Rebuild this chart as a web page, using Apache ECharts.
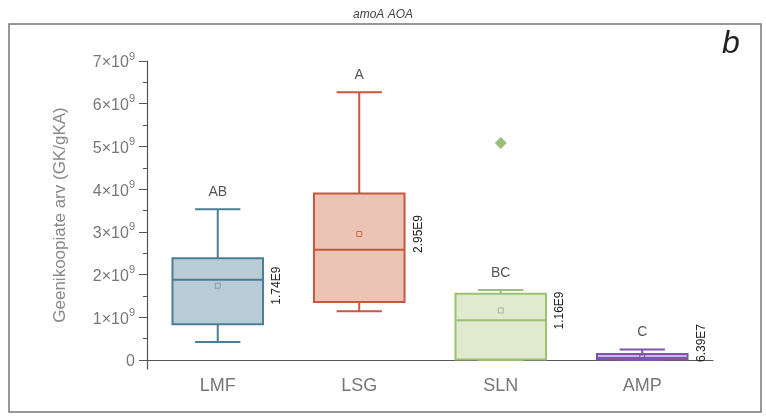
<!DOCTYPE html>
<html>
<head>
<meta charset="utf-8">
<script src="https://cdn.jsdelivr.net/npm/echarts@6/dist/echarts.min.js"></script>
<style>
html, body { margin: 0; padding: 0; background: #fff; }
#box { width: 766px; height: 416px; }
</style>
</head>
<body>
<div id="box"></div>
<script>
// 数据
var categories = ['LMF', 'LSG', 'SLN', 'AMP'];
var whiskerLow = [0.42e9, 1.14e9, 0.0, 0.0];
var q1 = [0.84e9, 1.36e9, 0.01e9, 0.01e9];
var median = [1.88e9, 2.58e9, 0.93e9, 0.05e9];
var q3 = [2.38e9, 3.90e9, 1.55e9, 0.14e9];
var whiskerHigh = [3.53e9, 6.27e9, 1.64e9, 0.245e9];
var means = [1.74e9, 2.95e9, 1.16e9, 6.39e7];
var meanLabels = ['1.74E9', '2.95E9', '1.16E9', '6.39E7'];
var groupLetters = ['AB', 'A', 'BC', 'C'];
var outliers = [[2, 5.08e9]];
var yTicks = [0, 1e9, 2e9, 3e9, 4e9, 5e9, 6e9, 7e9];
var yMinorTicks = [0.5e9, 1.5e9, 2.5e9, 3.5e9, 4.5e9, 5.5e9, 6.5e9];

// 颜色
var boxBorder = ['#4d7d93', '#c9573f', '#9cc074', '#7d55aa'];
var boxFill = ['#b8ccd7', '#ebc4b5', '#dfeacf', '#cbb6e0'];
var meanColor = ['#8a9aa3', '#d0643f', '#a8b49a', '#7d55aa'];

var FONT = '"Liberation Sans", Arial, sans-serif';

var boxData = categories.map(function(c, i) {
	return [i, whiskerLow[i], q1[i], median[i], q3[i], whiskerHigh[i], means[i]];
});

function renderBox(params, api) {
	var i = params.dataIndex;
	var cx = api.coord([i, 0])[0];
	var band = api.size([1, 0])[0];
	var hw = band * 0.32;
	var cw = hw * 0.5;
	var yLo = api.coord([i, api.value(1)])[1];
	var yQ1 = api.coord([i, api.value(2)])[1];
	var yMed = api.coord([i, api.value(3)])[1];
	var yQ3 = api.coord([i, api.value(4)])[1];
	var yHi = api.coord([i, api.value(5)])[1];
	var yMean = api.coord([i, api.value(6)])[1];
	var yZero = api.coord([i, 0])[1];
	var stroke = boxBorder[i];
	var ls = { stroke: stroke, lineWidth: 2 };
	// 数值标签中心，不低于零线
	var labY = Math.min(yMean, yZero - 17);
	return {
		type : 'group',
		children : [
			{ type: 'line', shape: { x1: cx, y1: yQ3, x2: cx, y2: yHi }, style: ls },
			{ type: 'line', shape: { x1: cx, y1: yQ1, x2: cx, y2: yLo }, style: ls },
			{ type: 'line', shape: { x1: cx - cw, y1: yHi, x2: cx + cw, y2: yHi }, style: ls },
			{ type: 'line', shape: { x1: cx - cw, y1: yLo, x2: cx + cw, y2: yLo }, style: ls },
			{ type: 'rect', shape: { x: cx - hw, y: yQ3, width: hw * 2, height: yQ1 - yQ3 },
				style: { fill: boxFill[i], stroke: stroke, lineWidth: 2 } },
			{ type: 'line', shape: { x1: cx - hw, y1: yMed, x2: cx + hw, y2: yMed }, style: ls },
			{ type: 'rect', shape: { x: cx - 2.5, y: yMean - 2.5, width: 5, height: 5 },
				style: { fill: 'none', stroke: meanColor[i], lineWidth: 1 } },
			{ type: 'text', x: cx, y: yHi - 17,
				style: { text: groupLetters[i], align: 'center', verticalAlign: 'middle',
					fill: '#555', font: '14px ' + FONT } },
			{ type: 'text', x: cx + hw + 14, y: labY, rotation: Math.PI / 2,
				style: { text: meanLabels[i], align: 'center', verticalAlign: 'middle',
					fill: '#222', font: '12px ' + FONT } }
		]
	};
}

var myChart = echarts.init(document.getElementById('box'));

var option = {
	animation : false,
	title : {
		text : 'amoA AOA',
		left : 'center',
		top : 4,
		textStyle : {
			fontStyle : 'italic',
			fontWeight : 'normal',
			fontSize : 12,
			color : '#444',
			fontFamily : FONT
		}
	},
	graphic : [
		{
			type : 'rect',
			shape : { x: 9, y: 24, width: 752, height: 388 },
			style : { fill: 'none', stroke: '#777', lineWidth: 1.5 },
			z : -1
		}, {
			type : 'text',
			left : 722,
			top : 28,
			style : { text: 'b', font: 'italic 32px ' + FONT, fill: '#222' }
		}
	],
	grid : {
		left : 147,
		right : 53,
		top : 61,
		bottom : 47
	},
	xAxis : {
		type : 'category',
		data : categories,
		axisLine : { lineStyle: { color: '#555', width: 1.2 } },
		axisTick : { alignWithLabel: true, length: 6, lineStyle: { color: '#555' } },
		axisLabel : { color: '#777', fontSize: 18, margin: 8, fontFamily: FONT }
	},
	yAxis : [
		{
			type : 'value',
			min : -0.21e9,
			max : 7e9,
			name : 'Geenikoopiate arv (GK/gKA)',
			nameLocation : 'middle',
			nameGap : 78,
			nameTextStyle : { color: '#888', fontSize: 17, fontFamily: FONT },
			splitLine : { show: false },
			axisLine : { show: true, lineStyle: { color: '#555', width: 1.2 } },
			axisTick : { show: true, customValues: yTicks, length: 8, lineStyle: { color: '#555' } },
			axisLabel : {
				customValues : yTicks,
				margin : 12,
				color : '#777',
				fontFamily : FONT,
				formatter : function(v) {
					if (v === 0) return '{a|0}';
					return '{a|' + Math.round(v / 1e9) + '×10}{sup|9}';
				},
				rich : {
					a : { fontSize: 16, color: '#777', fontFamily: FONT, lineHeight: 20, verticalAlign: 'bottom' },
					sup : { fontSize: 11, color: '#777', fontFamily: FONT, verticalAlign: 'top', lineHeight: 20 }
				}
			}
		}, {
			type : 'value',
			min : -0.21e9,
			max : 7e9,
			position : 'left',
			splitLine : { show: false },
			axisLine : { show: false },
			axisLabel : { show: false },
			axisTick : { show: true, customValues: yMinorTicks, length: 4, lineStyle: { color: '#555' } }
		}
	],
	series : [
		{
			type : 'custom',
			renderItem : renderBox,
			data : boxData,
			clip : false,
			encode : { x: 0, y: [1, 5] }
		}, {
			type : 'scatter',
			data : outliers,
			symbol : 'diamond',
			symbolSize : 12,
			itemStyle : { color: '#80ae56' }
		}
	]
};
myChart.setOption(option);
</script>
</body>
</html>
